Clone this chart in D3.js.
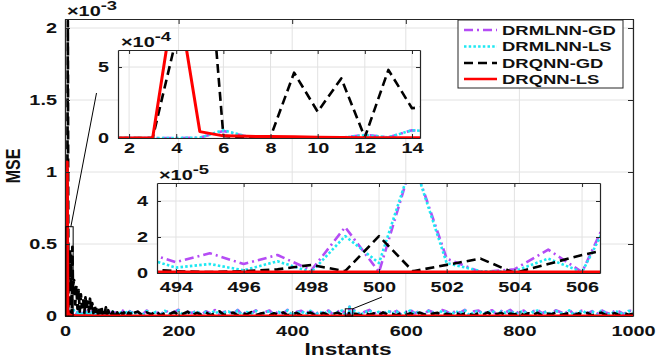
<!DOCTYPE html>
<html><head><meta charset="utf-8">
<script src="https://cdn.jsdelivr.net/npm/d3@7"></script>
<style>
body{margin:0;background:#fff}
text{font-family:"Liberation Sans",Arial,sans-serif;font-weight:bold;fill:#111}
</style>
</head><body><svg id="c" width="656" height="357"></svg>
<script>
// ---------- DATA (MSE values in units of 1e-5) ----------
const seriesNames = ["DRMLNN-GD","DRMLNN-LS","DRQNN-GD","DRQNN-LS"];
// instants segments
const instA = d3.range(1,15);          // 1..14
const instB = d3.range(16,121,2);      // 16..120
const instC = d3.range(128,489,8);     // 128..488
const instD = d3.range(494,508);       // 494..507
const instE = d3.range(512,1001,8);    // 512..1000

const gdMl_A = [0,0,0,0,0.2,5,1,0.3,0.2,0.4,0.2,2.2,0.5,5.5];
const lsMl_A = [0,0,0,0,0.2,5.5,1,0.3,0.2,0.3,0.2,2,0.5,5.5];
const gdQ_A  = [0,0,0,70,205,1.5,0.2,0.8,46,18.5,42,0.5,48,21];
const lsQ_A  = [0,0,0,107,4.5,1.5,1.2,1,0.8,0.5,0.3,0.2,0.2,0.2];

const gdMl_B = [3.3,0.8,1.2,2.9,0.5,1.7,3.4,1,0.4,2.3,3.8,0.7,1.5,3,0.6,1.3,3.5,0.9,2.2,0.5,2.9,1.3,0.6,3.3,2,0.7,2.7,1.1,3.6,0.4,1.9,3,0.8,1.5,3.4,0.6,2.5,1,3.2,1.7,0.5,2.8,1.2,3.7,0.9,2.1,2.9,0.7,1.6,3.3,0.8,2.6,1.4];
const lsMl_B = [3,0.5,1,2.5,0.3,1.5,3,0.8,0.2,2,3.5,0.5,1.2,2.8,0.4,1,3.2,0.6,2,0.3,2.6,1.1,0.4,3,1.8,0.5,2.4,0.9,3.3,0.2,1.6,2.7,0.6,1.3,3.1,0.4,2.2,0.8,2.9,1.5,0.3,2.5,1,3.4,0.7,1.9,2.6,0.5,1.4,3,0.6,2.3,1.2];
const gdQ_B  = [25,8,21,5,18,3,15,6,12,2,13,5,10,3,12,4,9,2,8,3,7,1,6,2,7,1.5,5,2,6,1,4,1.5,3.5,1,3,0.8,3.2,1,2.5,0.5,3,1,2.2,0.6,2.5,0.8,2,0.5,2.4,0.7,1.8,0.4,2];
const lsQ_B  = [0.3,0.25,0.22,0.2,0.18,0.17,0.15,0.14,0.13,0.12,0.12,0.11,0.1,0.1,0.1,0.09,0.09,0.08,0.08,0.08,0.08,0.07,0.07,0.07,0.07,0.07,0.06,0.06,0.06,0.06,0.06,0.06,0.06,0.05,0.05,0.05,0.05,0.05,0.05,0.05,0.05,0.05,0.05,0.05,0.05,0.05,0.05,0.05,0.05,0.05,0.05,0.05,0.05];

const gdMl_C = [2.9,0.9,3.8,1.5,3.1,0.7,4,1.8,2.6,4.3,1,2.9,2.1,3.7,0.8,3.3,1.7,4.1,1.1,2.8,3.5,1.3,4.2,0.9,3,1.9,3.9,1.2,2.7,3.8,0.8,3.2,1.6,4.3,1,2.9,3.6,1.4,4,0.7,3.3,2,3.8,1.1,3,4.2];
const lsMl_C = [2.5,0.6,3.4,1.2,2.8,0.4,3.6,1.5,2.2,3.9,0.7,2.6,1.8,3.3,0.5,2.9,1.4,3.7,0.8,2.4,3.1,1,3.8,0.6,2.7,1.6,3.5,0.9,2.3,3.4,0.5,2.8,1.3,3.9,0.7,2.5,3.2,1.1,3.6,0.4,2.9,1.7,3.4,0.8,2.6,3.8];
const gdQ_C  = [3,0.5,2.5,1,3.5,0.4,2,1.2,2.8,0.6,1.5,3,0.3,2.2,0.9,2.6,0.5,1.8,3.2,0.7,1.4,2.4,0.4,2,1.1,2.7,0.6,1.6,2.2,0.3,1.9,0.8,2.5,0.5,1.3,2.1,0.4,1.7,2.4,0.6,1.2,2,0.5,1.5,2.3,0.8];
const lsQ_C  = [0.05,0.06,0.04,0.05,0.07,0.05,0.04,0.06,0.05,0.05,0.06,0.04,0.05,0.07,0.05,0.04,0.06,0.05,0.05,0.06,0.04,0.05,0.07,0.05,0.04,0.06,0.05,0.05,0.06,0.04,0.05,0.07,0.05,0.04,0.06,0.05,0.05,0.06,0.04,0.05,0.07,0.05,0.04,0.06,0.05,0.05];

const gdMl_D = [0.6,1.1,0.5,1.0,0.15,2.55,0.05,6.3,0.8,0.05,0.2,1.3,0.05,4.1];
const lsMl_D = [0.3,0.5,0.15,0.65,0.05,2.05,0.55,6.3,0.55,0.1,0.1,0.8,0.05,3.7];
const gdQ_D  = [0.1,0.05,0.1,0.2,0.45,0.1,2.05,0.1,0.45,0.8,0,0.5,1.0,1.4];
const lsQ_D  = [0.05,0.05,0.05,0.05,0.05,0.05,0.05,0.05,0.05,0.05,0.05,0.05,0.05,0.05];

const gdMl_E = [3.6,1.1,3,4.2,1.5,3.3,0.8,4,2.1,3.5,1,2.8,4.2,1.8,3.4,0.9,3.9,2.6,1.3,4.1,3.1,1.2,3.7,2.3,4.3,0.8,3.2,3.8,1.6,2.9,4,1.1,3.5,2.4,4.2,1.4,3,3.7,0.9,3.3,4.1,1.9,3.4,1.2,3.9,2.7,1.5,4.3,1,3.1,3.8,1.8,3.4,1.1,4,2.5,1.3,3.6,3,1.2,3.9,3.2];
const lsMl_E = [3.2,0.8,2.6,3.9,1.2,2.9,0.5,3.6,1.8,3.1,0.7,2.4,3.8,1.5,3,0.6,3.5,2.2,1,3.7,2.7,0.9,3.3,1.9,3.9,0.5,2.8,3.4,1.3,2.5,3.6,0.8,3.1,2,3.8,1.1,2.6,3.3,0.6,2.9,3.7,1.6,3,0.9,3.5,2.3,1.2,3.9,0.7,2.7,3.4,1.5,3,0.8,3.6,2.1,1,3.2,2.6,0.9,3.5,2.8];
const gdQ_E  = [1.5,0.4,2.2,0.8,1.8,0.3,2.5,1,1.4,0.5,2.1,0.7,1.9,0.4,2.4,1.1,0.6,1.7,2.2,0.3,1.5,0.9,2.3,0.5,1.8,1.2,0.4,2,0.8,2.5,0.6,1.4,2.1,0.3,1.7,1,2.3,0.5,1.9,0.7,2.2,0.4,1.6,1.1,2.4,0.6,1.3,2,0.5,1.8,0.9,2.1,0.4,1.5,2.3,0.7,1.2,1.9,0.5,2,0.8,1.6];
const lsQ_E  = [0.05,0.06,0.04,0.05,0.07,0.05,0.04,0.06,0.05,0.05,0.06,0.04,0.05,0.07,0.05,0.04,0.06,0.05,0.05,0.06,0.04,0.05,0.07,0.05,0.04,0.06,0.05,0.05,0.06,0.04,0.05,0.07,0.05,0.04,0.06,0.05,0.05,0.06,0.04,0.05,0.07,0.05,0.04,0.06,0.05,0.05,0.06,0.04,0.05,0.07,0.05,0.04,0.06,0.05,0.05,0.06,0.04,0.05,0.07,0.05,0.04,0.06];

const mainXTicks = [0,200,400,600,800,1000];
const mainYTicks = [0,50,100,150,200];          // 0..2 x1e-3
const mainYTickLabels = ["0","0.5","1","1.5","2"];
const in1XTicks = [2,4,6,8,10,12,14];
const in1YTicks = [0,50];                       // 0,5 x1e-4
const in1YTickLabels = ["0","5"];
const in2XTicks = [494,496,498,500,502,504,506];
const in2YTicks = [0,2,4];                      // x1e-5
const in2YTickLabels = ["0","2","4"];

// ---------- BUILD ----------
const instants = [...instA,...instB,...instC,...instD,...instE];
const vals = [
  [...gdMl_A,...gdMl_B,...gdMl_C,...gdMl_D,...gdMl_E],
  [...lsMl_A,...lsMl_B,...lsMl_C,...lsMl_D,...lsMl_E],
  [...gdQ_A,...gdQ_B,...gdQ_C,...gdQ_D,...gdQ_E],
  [...lsQ_A,...lsQ_B,...lsQ_C,...lsQ_D,...lsQ_E]
];
const styles = [
  {color:"#b54cf5", dash:"9,4,2,4"},
  {color:"#1ee8f2", dash:"2.5,2.2"},
  {color:"#000000", dash:"9,5"},
  {color:"#ff0000", dash:null}
];
const series = seriesNames.map((n,i)=>({name:n, style:styles[i], pts:instants.map((x,j)=>({x, y:vals[i][j]}))}));

const SX = 1.42; // horizontal stretch of the reference image
const svg = d3.select("#c");
const AX = "#262626";

function panel(box, xDom, yDom, xt, yt, ytl, opts){
  const g = svg.append("g");
  const x = d3.scaleLinear().domain(xDom).range([box.l, box.r]);
  const y = d3.scaleLinear().domain(yDom).range([box.b, box.t]);
  const id = "clip"+opts.id;
  svg.append("clipPath").attr("id",id).append("rect")
    .attr("x",box.l).attr("y",box.t).attr("width",box.r-box.l).attr("height",box.b-box.t);
  g.append("rect").attr("x",box.l).attr("y",box.t).attr("width",box.r-box.l).attr("height",box.b-box.t).attr("fill","#fff");
  // grid
  g.selectAll(".gx").data(xt).join("line").attr("x1",d=>x(d)).attr("x2",d=>x(d)).attr("y1",box.t).attr("y2",box.b)
    .attr("stroke","#e2e2e2").attr("stroke-width",1);
  g.selectAll(".gy").data(yt).join("line").attr("y1",d=>y(d)).attr("y2",d=>y(d)).attr("x1",box.l).attr("x2",box.r)
    .attr("stroke","#e2e2e2").attr("stroke-width",1);
  // lines
  const line = d3.line().x(d=>x(d.x)).y(d=>y(d.y));
  const lg = g.append("g").attr("clip-path",`url(#${id})`);
  series.forEach(s=>{
    const pts = s.pts.filter(p=>p.x>=xDom[0]-20 && p.x<=xDom[1]+20);
    lg.append("path").datum(pts).attr("d",line).attr("fill","none")
      .attr("stroke",s.style.color).attr("stroke-width", s.name==="DRQNN-LS"?opts.lwRed:opts.lw)
      .attr("stroke-dasharray",s.style.dash).attr("stroke-linejoin","round");
  });
  // axes (ticks inward)
  const ax = g.append("g").attr("transform",`translate(0,${box.b})`)
    .call(d3.axisBottom(x).tickValues(xt).tickFormat(d3.format("d")).tickSize(-opts.tick).tickSizeOuter(0).tickPadding(opts.xpad));
  ax.selectAll("text").attr("transform",`scale(${SX},1)`).attr("font-size",14).attr("fill","#111");
  const ay = g.append("g").attr("transform",`translate(${box.l},0)`)
    .call(d3.axisLeft(y).tickValues(yt).tickFormat((d,i)=>ytl[i]).tickSize(-opts.tick).tickSizeOuter(0).tickPadding(opts.ypad/SX));
  ay.selectAll("text").attr("transform",`scale(${SX},1)`).attr("font-size",14).attr("fill","#111");
  g.append("g").attr("transform",`translate(0,${box.t})`)
    .call(d3.axisTop(x).tickValues(xt).tickSize(-opts.tick).tickSizeOuter(0).tickFormat(""));
  g.append("g").attr("transform",`translate(${box.r},0)`)
    .call(d3.axisRight(y).tickValues(yt).tickSize(-opts.tick).tickSizeOuter(0).tickFormat(""));
  g.selectAll(".domain").attr("stroke",AX).attr("stroke-width",1.2);
  g.selectAll(".tick line").attr("stroke",AX);
  g.selectAll("text").attr("font-family",null);
  return {x,y,g};
}

function stext(x,y,parts,size){
  const t = svg.append("text").attr("transform",`translate(${x},${y}) scale(${SX},1)`).attr("font-size",size);
  t.append("tspan").text(parts[0]);
  if(parts[1]) t.append("tspan").attr("dy",-6).attr("font-size",size-1).text(parts[1]);
  return t;
}

// main
const M = panel({l:65,r:633,t:19,b:316},[0,1000],[0,206.25],mainXTicks,mainYTicks,mainYTickLabels,
  {id:"m",lw:2.7,lwRed:3,tick:5,xpad:10,ypad:8});
stext(67,16,["\u00d710","-3"],14);
svg.append("text").attr("transform",`translate(348,354.5) scale(${SX},1)`).attr("text-anchor","middle").attr("font-size",16).text("Instants");
svg.append("text").attr("transform",`translate(20,166) scale(1.25,1) rotate(-90)`).attr("text-anchor","middle").attr("font-size",16).text("MSE");

// zoom rectangles + connectors (data coords)
const in1Dom = {x:[1.53,14.34], y:[0,62]};
const in2Dom = {x:[493.44,506.53], y:[0,5]};
function zoomRect(d){
  svg.append("rect").attr("x",M.x(d.x[0])).attr("y",M.y(d.y[1]))
    .attr("width",M.x(d.x[1])-M.x(d.x[0])).attr("height",M.y(d.y[0])-M.y(d.y[1]))
    .attr("fill","none").attr("stroke","#000").attr("stroke-width",1);
}
zoomRect(in1Dom); zoomRect(in2Dom);
svg.append("line").attr("x1",M.x(in1Dom.x[0])+5).attr("y1",M.y(in1Dom.y[1])).attr("x2",96.5).attr("y2",93).attr("stroke","#000").attr("stroke-width",1);
svg.append("line").attr("x1",M.x(in2Dom.x[1])).attr("y1",M.y(in2Dom.y[1])).attr("x2",382).attr("y2",297).attr("stroke","#000").attr("stroke-width",1);

// inset 1
panel({l:118,r:420,t:50,b:138},in1Dom.x,in1Dom.y,in1XTicks,in1YTicks,in1YTickLabels,
  {id:"i1",lw:2.6,lwRed:3,tick:4,xpad:5,ypad:9});
stext(121,47,["\u00d710","-4"],14);
// inset 2
panel({l:157,r:600,t:183,b:273},in2Dom.x,in2Dom.y,in2XTicks,in2YTicks,in2YTickLabels,
  {id:"i2",lw:2.6,lwRed:3,tick:4,xpad:9,ypad:9});
stext(159,180,["\u00d710","-5"],14);

// legend
const LG = {l:458,r:623,t:20,b:88};
svg.append("rect").attr("x",LG.l).attr("y",LG.t).attr("width",LG.r-LG.l).attr("height",LG.b-LG.t)
  .attr("fill","#fff").attr("stroke",AX).attr("stroke-width",1);
const legY = [30,46.5,63,79];
series.forEach((s,i)=>{
  svg.append("line").attr("x1",LG.l+6).attr("x2",497).attr("y1",legY[i]).attr("y2",legY[i])
    .attr("stroke",s.style.color).attr("stroke-width",2.6).attr("stroke-dasharray",s.style.dash);
  svg.append("text").attr("transform",`translate(502,${legY[i]+4.7}) scale(${SX},1)`).attr("font-size",13).text(s.name);
});
</script>
</body></html>
